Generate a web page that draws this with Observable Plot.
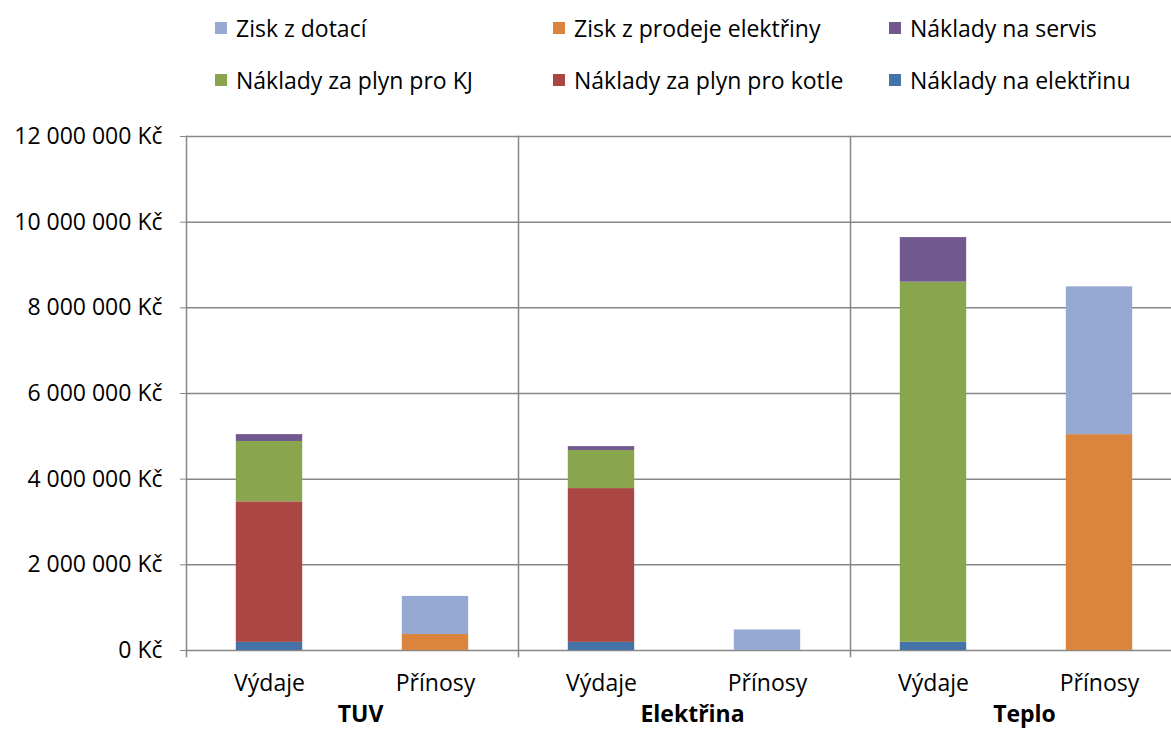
<!DOCTYPE html>
<html>
<head>
<meta charset="utf-8">
<script src="https://cdn.jsdelivr.net/npm/d3@7"></script>
<script src="https://cdn.jsdelivr.net/npm/@observablehq/plot@0.6"></script>
<style>
  html, body { margin: 0; padding: 0; background: #fff; overflow: hidden; }
  #wrap { position: relative; width: 1171px; height: 731px; font-family: "Open Sans", sans-serif; }
  #legend { position: relative; height: 110px; }
  .item { position: absolute; display: flex; align-items: center; font-size: 23px; color: #000; white-space: nowrap; transform: translateY(-50%); }
  .sw { width: 12px; height: 12px; margin-right: 9px; }
</style>
</head>
<body>
<div id="wrap">
  <div id="legend"></div>
  <div id="chart"></div>
</div>
<script>
// ---- data ----
const groups = ["TUV", "Elektřina", "Teplo"];
const kinds = ["Výdaje", "Přínosy"];
const series = [
  "Náklady na elektřinu",
  "Náklady za plyn pro kotle",
  "Náklady za plyn pro KJ",
  "Náklady na servis",
  "Zisk z prodeje elektřiny",
  "Zisk z dotací"
];
const colors = ["#4572A7", "#AA4643", "#89A54E", "#71588F", "#DB843D", "#95A9D2"];
// values for bars: TUV-Výdaje, TUV-Přínosy, Elektřina-Výdaje, Elektřina-Přínosy, Teplo-Výdaje, Teplo-Přínosy
const nakladyElektrina = [190000, 0, 190000, 0, 190000, 0];
const nakladyKotle     = [3280000, 0, 3590000, 0, 0, 0];
const nakladyKJ        = [1410000, 0, 890000, 0, 8410000, 0];
const nakladyServis    = [160000, 0, 90000, 0, 1040000, 0];
const ziskProdej       = [0, 373000, 0, 0, 0, 5040000];
const ziskDotace       = [0, 890000, 0, 480000, 0, 3450000];
const yTicks = [0, 2000000, 4000000, 6000000, 8000000, 10000000, 12000000];
const legendOrder = [5, 4, 3, 2, 1, 0];

// ---- table ----
const seriesValues = [nakladyElektrina, nakladyKotle, nakladyKJ, nakladyServis, ziskProdej, ziskDotace];
const rows = [];
series.forEach((s, si) => {
  groups.forEach((g, gi) => {
    kinds.forEach((k, ki) => {
      rows.push({group: g, kind: k, series: s, value: seriesValues[si][gi * 2 + ki]});
    });
  });
});

// ---- legend ----
const legend = document.getElementById("legend");
const colX = [215, 553, 889];
const rowY = [28, 80];
legendOrder.forEach((si, i) => {
  const el = document.createElement("div");
  el.className = "item";
  el.style.left = colX[i % 3] + "px";
  el.style.top = rowY[Math.floor(i / 3)] + "px";
  const sw = document.createElement("span");
  sw.className = "sw";
  sw.style.background = colors[si];
  el.appendChild(sw);
  el.appendChild(document.createTextNode(series[si]));
  legend.appendChild(el);
});

// ---- chart ----
const fmt = d => d3.format(",")(d).replace(/,/g, "\u00a0") + " Kč";
const chart = Plot.plot({
  width: 1182,
  height: 621,
  marginLeft: 185,
  marginRight: 0,
  marginTop: 26,
  marginBottom: 81,
  style: {fontFamily: "Open Sans, sans-serif", fontSize: "23px", color: "#000", maxWidth: "none", overflow: "visible", background: "#fff"},
  fx: {domain: groups, padding: 0, axis: null},
  x: {domain: kinds, paddingInner: 0.6, paddingOuter: 0.3, round: false, axis: null},
  y: {domain: [0, 12000000], axis: null},
  color: {domain: series, range: colors},
  marks: [
    Plot.ruleY(yTicks, {stroke: "#878787", strokeWidth: 1.5}),
    Plot.frame({anchor: "left", stroke: "#878787", strokeWidth: 1.5, insetBottom: -6}),
    Plot.barY(rows, {fx: "group", x: "kind", y: "value", fill: "series"}),
    Plot.axisY({ticks: yTicks, tickFormat: fmt, tickSize: 6, tickPadding: 18, stroke: "#878787", fill: "#000", fontSize: 23, anchor: "left", label: null}),
    Plot.axisX({tickSize: 0, tickPadding: 24, fontSize: 23, fill: "#000", label: null}),
    Plot.text(groups, {fx: d => d, text: d => d, frameAnchor: "bottom", dy: 71, dx: 8, fontWeight: "bold", fontSize: 23, fill: "#000"})
  ]
});
document.getElementById("chart").appendChild(chart);
</script>
</body>
</html>
